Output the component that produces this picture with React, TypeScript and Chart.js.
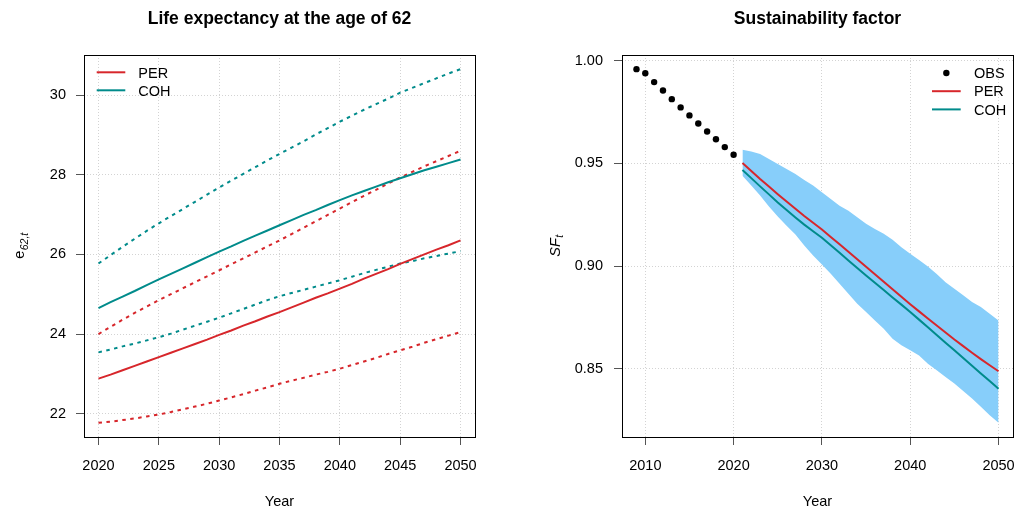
import React, { useEffect, useRef } from "react";
import { Chart, registerables } from "chart.js";

Chart.register(...registerables);

// ---------- Data: life expectancy at 62 ----------
const LE_YEARS = [2020, 2021, 2022, 2023, 2024, 2025, 2026, 2027, 2028, 2029, 2030, 2031, 2032, 2033, 2034, 2035, 2036, 2037, 2038, 2039, 2040, 2041, 2042, 2043, 2044, 2045, 2046, 2047, 2048, 2049, 2050];
const PER_MEAN = [22.88, 22.98, 23.09, 23.2, 23.31, 23.42, 23.53, 23.64, 23.75, 23.86, 23.98, 24.09, 24.21, 24.32, 24.44, 24.55, 24.67, 24.79, 24.91, 25.02, 25.14, 25.26, 25.39, 25.51, 25.63, 25.76, 25.88, 26.0, 26.12, 26.23, 26.35];
const PER_LOW = [21.77, 21.8, 21.84, 21.88, 21.93, 21.98, 22.04, 22.11, 22.18, 22.25, 22.33, 22.41, 22.49, 22.58, 22.66, 22.75, 22.83, 22.9, 22.98, 23.05, 23.13, 23.22, 23.31, 23.4, 23.5, 23.59, 23.68, 23.78, 23.87, 23.96, 24.05];
const PER_HIGH = [24.0, 24.18, 24.36, 24.53, 24.69, 24.85, 25.0, 25.15, 25.3, 25.45, 25.6, 25.75, 25.9, 26.05, 26.2, 26.35, 26.51, 26.67, 26.83, 26.99, 27.15, 27.31, 27.47, 27.62, 27.78, 27.93, 28.07, 28.21, 28.34, 28.47, 28.6];
const COH_MEAN = [24.65, 24.8, 24.94, 25.08, 25.23, 25.37, 25.51, 25.65, 25.79, 25.93, 26.07, 26.2, 26.34, 26.47, 26.6, 26.73, 26.86, 26.99, 27.11, 27.24, 27.36, 27.48, 27.59, 27.7, 27.81, 27.91, 28.01, 28.11, 28.2, 28.29, 28.38];
const COH_LOW = [23.54, 23.61, 23.69, 23.76, 23.84, 23.92, 24.01, 24.11, 24.21, 24.31, 24.41, 24.52, 24.63, 24.74, 24.85, 24.95, 25.03, 25.11, 25.19, 25.27, 25.35, 25.44, 25.53, 25.61, 25.69, 25.77, 25.83, 25.9, 25.96, 26.02, 26.08];
const COH_HIGH = [25.77, 25.98, 26.19, 26.39, 26.59, 26.78, 26.96, 27.14, 27.32, 27.5, 27.68, 27.85, 28.02, 28.19, 28.36, 28.52, 28.68, 28.84, 29.01, 29.17, 29.33, 29.48, 29.63, 29.77, 29.91, 30.06, 30.18, 30.3, 30.42, 30.54, 30.65];
const LE_X_TICKS = [2020, 2025, 2030, 2035, 2040, 2045, 2050];
const LE_Y_TICKS = [22, 24, 26, 28, 30];

// ---------- Data: sustainability factor ----------
const OBS_YEARS = [2009, 2010, 2011, 2012, 2013, 2014, 2015, 2016, 2017, 2018, 2019, 2020];
const OBS_SF = [0.9958, 0.9938, 0.9895, 0.9854, 0.9812, 0.9772, 0.9733, 0.9694, 0.9655, 0.9617, 0.9579, 0.9542];
const FC_YEARS = [2021, 2022, 2023, 2024, 2025, 2026, 2027, 2028, 2029, 2030, 2031, 2032, 2033, 2034, 2035, 2036, 2037, 2038, 2039, 2040, 2041, 2042, 2043, 2044, 2045, 2046, 2047, 2048, 2049, 2050];
const SF_PER = [0.9502, 0.9463, 0.9424, 0.9387, 0.935, 0.9314, 0.9279, 0.9244, 0.9211, 0.9178, 0.9142, 0.9106, 0.907, 0.9033, 0.8997, 0.8961, 0.8924, 0.8888, 0.8851, 0.8815, 0.878, 0.8745, 0.8711, 0.8677, 0.8643, 0.8611, 0.8579, 0.8548, 0.8518, 0.8489];
const SF_COH = [0.9468, 0.9428, 0.9388, 0.9349, 0.931, 0.9273, 0.9237, 0.9202, 0.917, 0.9138, 0.9102, 0.9065, 0.9028, 0.8991, 0.8955, 0.8919, 0.8884, 0.8848, 0.8813, 0.8777, 0.874, 0.8703, 0.8665, 0.8628, 0.8591, 0.8553, 0.8516, 0.8478, 0.8441, 0.8404];
const SF_HIGH = [0.9566, 0.9558, 0.9545, 0.9521, 0.9497, 0.9472, 0.9448, 0.9419, 0.9392, 0.9359, 0.9327, 0.9294, 0.927, 0.9238, 0.9206, 0.9181, 0.9157, 0.9128, 0.9092, 0.906, 0.903, 0.8998, 0.8962, 0.8922, 0.889, 0.8858, 0.8826, 0.8801, 0.8769, 0.8736];
const SF_LOW = [0.944, 0.9392, 0.9343, 0.929, 0.9241, 0.9197, 0.9154, 0.91, 0.9052, 0.9008, 0.8963, 0.8914, 0.8866, 0.8817, 0.8777, 0.8736, 0.8696, 0.8647, 0.8615, 0.8591, 0.8566, 0.8526, 0.8494, 0.8461, 0.8429, 0.8393, 0.8356, 0.8316, 0.8275, 0.8238];
const SF_X_TICKS = [2010, 2020, 2030, 2040, 2050];
const SF_Y_TICKS = [0.85, 0.9, 0.95, 1.0];

// ---------- Styles ----------
const RED = "#D7262B";
const TEAL = "#008B8B";
const BAND = "#87CEFA";
const FONT = '"Liberation Sans", Arial, Helvetica, sans-serif';
const TICK_SIZE = 14.5;

function rRange(vals: number[]): [number, number] {
  const mn = Math.min(...vals);
  const mx = Math.max(...vals);
  const e = (mx - mn) * 0.04;
  return [mn - e, mx + e];
}

function pts(xs: number[], ys: number[]) {
  return xs.map((x, i) => ({ x, y: ys[i] }));
}

function axis(range: [number, number], ticks: number[], fmt: (v: number) => string, isX: boolean, size: number, pad: number) {
  return {
    type: "linear",
    min: range[0],
    max: range[1],
    afterBuildTicks: (scale: any) => {
      scale.ticks = ticks.map((v) => ({ value: v }));
    },
    afterFit: (scale: any) => {
      if (isX) scale.height = size;
      else scale.width = size;
      scale.paddingLeft = 0;
      scale.paddingRight = 0;
      scale.paddingTop = 0;
      scale.paddingBottom = 0;
    },
    border: { display: false, dash: [1, 2] },
    grid: {
      color: "#d3d3d3",
      lineWidth: 1,
      drawTicks: true,
      tickLength: 8,
      tickColor: "#555",
      tickWidth: 1,
      tickBorderDash: [],
    },
    ticks: {
      autoSkip: false,
      maxRotation: 0,
      minRotation: 0,
      padding: pad,
      color: "#000",
      font: { family: FONT, size: TICK_SIZE },
      callback: (v: any) => fmt(Number(v)),
    },
  };
}

type LegendItem = { label: string; color: string; kind: "line" | "dot" };

function decor(spec: {
  id: string;
  title: string;
  ylab: { main: string; sub: string; italic: boolean; x: number };
  legend: { items: LegendItem[]; x1: number; x2: number; tx: number; y0: number; dy: number };
}) {
  return {
    id: spec.id,
    afterDraw(chart: any) {
      const { ctx, chartArea: a } = chart;
      ctx.save();
      // box
      ctx.strokeStyle = "#000";
      ctx.lineWidth = 1;
      ctx.setLineDash([]);
      ctx.strokeRect(Math.round(a.left) + 0.5, Math.round(a.top) + 0.5, Math.round(a.right - a.left), Math.round(a.bottom - a.top));
      const cx = (a.left + a.right) / 2;
      const cy = (a.top + a.bottom) / 2;
      ctx.fillStyle = "#000";
      // title
      ctx.font = `bold 17.5px ${FONT}`;
      ctx.textAlign = "center";
      ctx.textBaseline = "alphabetic";
      ctx.fillText(spec.title, cx, 23.5);
      // x label
      ctx.font = `${TICK_SIZE}px ${FONT}`;
      ctx.fillText("Year", cx, 506);
      // y label with subscript (rotated)
      ctx.save();
      ctx.translate(spec.ylab.x, cy);
      ctx.rotate(-Math.PI / 2);
      const it = spec.ylab.italic ? "italic " : "";
      const mainFont = `${it}${TICK_SIZE}px ${FONT}`;
      const subFont = `italic 10.5px ${FONT}`;
      ctx.font = mainFont;
      const wm = ctx.measureText(spec.ylab.main).width;
      ctx.font = subFont;
      const ws = ctx.measureText(spec.ylab.sub).width;
      const x0 = -(wm + ws) / 2;
      ctx.textAlign = "left";
      ctx.font = mainFont;
      ctx.fillText(spec.ylab.main, x0, 0);
      ctx.font = subFont;
      ctx.fillText(spec.ylab.sub, x0 + wm + 0.5, 3.5);
      ctx.restore();
      // legend
      const L = spec.legend;
      ctx.font = `${TICK_SIZE}px ${FONT}`;
      ctx.textAlign = "left";
      ctx.textBaseline = "alphabetic";
      L.items.forEach((item, i) => {
        const y = L.y0 + i * L.dy;
        if (item.kind === "line") {
          ctx.strokeStyle = item.color;
          ctx.lineWidth = 2;
          ctx.beginPath();
          ctx.moveTo(L.x1, y);
          ctx.lineTo(L.x2, y);
          ctx.stroke();
        } else {
          ctx.fillStyle = item.color;
          ctx.beginPath();
          ctx.arc((L.x1 + L.x2) / 2, y, 3.2, 0, Math.PI * 2);
          ctx.fill();
        }
        ctx.fillStyle = "#000";
        ctx.fillText(item.label, L.tx, y + 5.2);
      });
      ctx.restore();
    },
  };
}

function lineDs(label: string, xs: number[], ys: number[], color: string, dotted: boolean, order = 1) {
  return {
    label,
    data: pts(xs, ys),
    borderColor: color,
    backgroundColor: color,
    borderWidth: 2,
    borderDash: dotted ? [3.5, 4.5] : [],
    borderCapStyle: "butt",
    pointRadius: 0,
    tension: 0,
    fill: false,
    order,
  };
}

function leftConfig(): any {
  const yRange = rRange([...PER_LOW, ...PER_HIGH, ...COH_LOW, ...COH_HIGH, ...PER_MEAN, ...COH_MEAN]);
  const xRange = rRange(LE_YEARS);
  return {
    type: "line",
    data: {
      datasets: [
        lineDs("PER", LE_YEARS, PER_MEAN, RED, false),
        lineDs("COH", LE_YEARS, COH_MEAN, TEAL, false),
        lineDs("PER low", LE_YEARS, PER_LOW, RED, true),
        lineDs("PER high", LE_YEARS, PER_HIGH, RED, true),
        lineDs("COH low", LE_YEARS, COH_LOW, TEAL, true),
        lineDs("COH high", LE_YEARS, COH_HIGH, TEAL, true),
      ],
    },
    options: {
      responsive: false,
      animation: false,
      devicePixelRatio: 1,
      layout: { padding: { left: 0, right: 37, top: 55, bottom: 0 } },
      plugins: { legend: { display: false }, title: { display: false }, tooltip: { enabled: false } },
      scales: {
        x: axis(xRange, LE_X_TICKS, (v) => String(v), true, 72, 12),
        y: axis(yRange, LE_Y_TICKS, (v) => String(v), false, 84, 10),
      },
    },
    plugins: [
      decor({
        id: "decorLeft",
        title: "Life expectancy at the age of 62",
        ylab: { main: "e", sub: "62,t", italic: false, x: 24 },
        legend: {
          items: [
            { label: "PER", color: RED, kind: "line" },
            { label: "COH", color: TEAL, kind: "line" },
          ],
          x1: 96.7,
          x2: 125.3,
          tx: 138.3,
          y0: 72.3,
          dy: 18,
        },
      }),
    ],
  };
}

function rightConfig(): any {
  const yRange = rRange([...OBS_SF, ...SF_LOW, ...SF_HIGH, ...SF_PER, ...SF_COH]);
  const xRange = rRange([...OBS_YEARS, ...FC_YEARS]);
  return {
    type: "line",
    data: {
      datasets: [
        {
          label: "OBS",
          data: pts(OBS_YEARS, OBS_SF),
          showLine: false,
          pointRadius: 3.2,
          pointBackgroundColor: "#000",
          pointBorderWidth: 0,
          borderColor: "#000",
          order: 0,
        },
        lineDs("PER", FC_YEARS, SF_PER, RED, false, 1),
        lineDs("COH", FC_YEARS, SF_COH, TEAL, false, 1),
        {
          label: "band high",
          data: pts(FC_YEARS, SF_HIGH),
          borderWidth: 0,
          borderColor: BAND,
          backgroundColor: BAND,
          pointRadius: 0,
          fill: "+1",
          order: 5,
        },
        {
          label: "band low",
          data: pts(FC_YEARS, SF_LOW),
          borderWidth: 0,
          borderColor: BAND,
          backgroundColor: BAND,
          pointRadius: 0,
          fill: false,
          order: 5,
        },
      ],
    },
    options: {
      responsive: false,
      animation: false,
      devicePixelRatio: 1,
      layout: { padding: { left: 0, right: 11, top: 55, bottom: 0 } },
      plugins: { legend: { display: false }, title: { display: false }, tooltip: { enabled: false } },
      scales: {
        x: axis(xRange, SF_X_TICKS, (v) => String(v), true, 72, 12),
        y: axis(yRange, SF_Y_TICKS, (v) => v.toFixed(2), false, 110, 11),
      },
    },
    plugins: [
      decor({
        id: "decorRight",
        title: "Sustainability factor",
        ylab: { main: "SF", sub: "t", italic: true, x: 47.5 },
        legend: {
          items: [
            { label: "OBS", color: "#000", kind: "dot" },
            { label: "PER", color: RED, kind: "line" },
            { label: "COH", color: TEAL, kind: "line" },
          ],
          x1: 420,
          x2: 448.7,
          tx: 462,
          y0: 73,
          dy: 18.2,
        },
      }),
    ],
  };
}

export default function App() {
  const leftRef = useRef<HTMLCanvasElement>(null);
  const rightRef = useRef<HTMLCanvasElement>(null);
  useEffect(() => {
    const c1 = new Chart(leftRef.current as HTMLCanvasElement, leftConfig());
    const c2 = new Chart(rightRef.current as HTMLCanvasElement, rightConfig());
    return () => {
      c1.destroy();
      c2.destroy();
    };
  }, []);
  return (
    <div style={{ position: "fixed", left: 0, top: 0, width: 1024, height: 509, background: "#fff" }}>
      <canvas ref={leftRef} width={512} height={509} style={{ position: "absolute", left: 0, top: 0, width: 512, height: 509 }} />
      <canvas ref={rightRef} width={512} height={509} style={{ position: "absolute", left: 512, top: 0, width: 512, height: 509 }} />
    </div>
  );
}
